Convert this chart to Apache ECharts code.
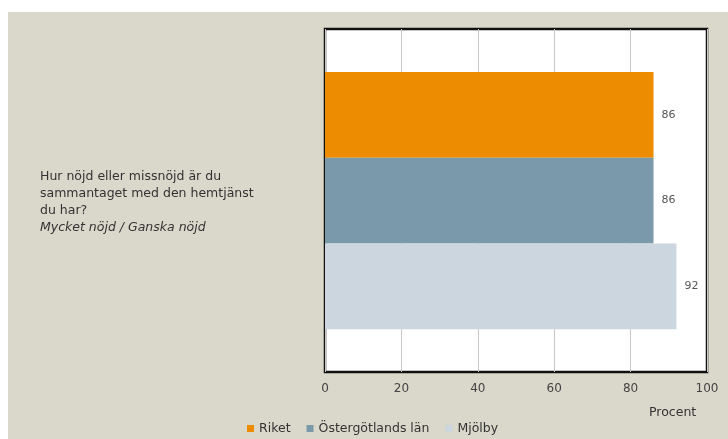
<!DOCTYPE html>
<html><head><meta charset="utf-8">
<script src="https://cdn.jsdelivr.net/npm/echarts@6/dist/echarts.min.js"></script>
<style>html,body{margin:0;padding:0;background:#fff}#c{width:728px;height:439px}</style>
</head><body><div id="c"></div>
<script>
var categories = ['Hur nöjd eller missnöjd är du\nsammantaget med den hemtjänst\ndu har?\n{i|Mycket nöjd / Ganska nöjd}'];
var seriesNames = ['Riket', 'Östergötlands län', 'Mjölby'];
var riket = [86];
var ostergotland = [86];
var mjolby = [92];
var colors = ['#ee8c00', '#7a9aac', '#cbd6de'];
var xTicks = [0, 20, 40, 60, 80, 100];

var values = [riket, ostergotland, mjolby];
var font = 'DejaVu Sans';
var series = [];
for (var k = 0; k < seriesNames.length; k++) {
  series.push({
    name: seriesNames[k], type: 'bar', data: values[k],
    barGap: 0, barCategoryGap: '25%',
    itemStyle: { color: colors[k] },
    label: { show: true, position: 'right', distance: 8, fontFamily: font, fontSize: 11, color: '#555' }
  });
}
var chart = echarts.init(document.getElementById('c'));
chart.setOption({
  backgroundColor: '#fff',
  animation: false,
  color: colors,
  graphic: [
    { type: 'rect', z: -10, shape: { x: 8, y: 12, width: 720, height: 427 }, style: { fill: '#dad7cb' } },
    { type: 'text', left: 649, top: 406, style: { text: 'Procent', fontFamily: font, fontSize: 12.5, fill: '#333' } }
  ],
  grid: { left: 325, top: 29, width: 382, height: 343, show: true, backgroundColor: '#fff', borderColor: '#111', borderWidth: 2.5 },
  legend: {
    data: seriesNames, left: 242, top: 417, icon: 'rect', itemWidth: 7, itemHeight: 7, itemGap: 16,
    textStyle: { fontFamily: font, fontSize: 12.5, color: '#333' }
  },
  xAxis: {
    type: 'value', min: xTicks[0], max: xTicks[xTicks.length - 1], interval: 20,
    axisLine: { show: false }, axisTick: { show: false },
    splitLine: { lineStyle: { color: '#c8c8c8', width: 1 } },
    axisLabel: { margin: 11, fontFamily: font, fontSize: 12, color: '#444' }
  },
  yAxis: {
    type: 'category', data: categories,
    axisLine: { show: false }, axisTick: { show: false },
    axisLabel: {
      align: 'left', margin: 285, fontFamily: font, fontSize: 12.5, color: '#333', lineHeight: 17,
      padding: [3, 0, 0, 0],
      rich: { i: { fontStyle: 'italic', fontFamily: font, fontSize: 12.5, color: '#333', lineHeight: 17 } }
    }
  },
  series: series
});
</script></body></html>
